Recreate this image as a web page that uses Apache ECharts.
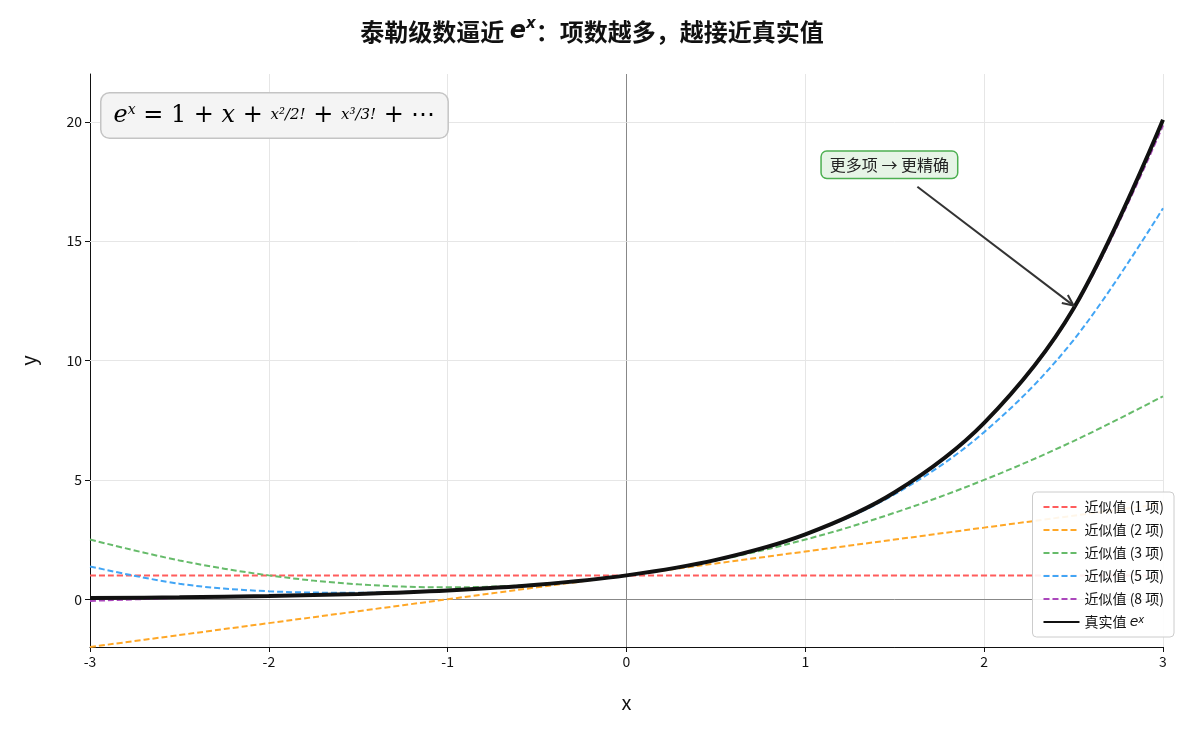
<!DOCTYPE html>
<html><head><meta charset="utf-8">
<script src="https://cdn.jsdelivr.net/npm/echarts@6/dist/echarts.min.js"></script>
<style>html,body{margin:0;background:#fff}#c{width:1184px;height:735px}</style>
</head><body><div id="c"></div>
<script>
const xs = [-3,-2.5,-2,-1.5,-1,-0.5,0,0.5,1,1.5,2,2.5,3];
const t1 = [1,1,1,1,1,1,1,1,1,1,1,1,1];
const t2 = [-2,-1.5,-1,-0.5,0,0.5,1,1.5,2,2.5,3,3.5,4];
const t3 = [2.5,1.625,1,0.625,0.5,0.625,1,1.625,2.5,3.625,5,6.625,8.5];
const t5 = [1.375,0.649,0.333,0.273,0.375,0.607,1,1.648,2.708,4.398,7,10.857,16.375];
const t8 = [-0.071,0.053,0.130,0.222,0.368,0.6065,1,1.6487,2.718,4.481,7.381,12.131,19.846];
const ex = [0.0498,0.0821,0.1353,0.2231,0.3679,0.6065,1,1.6487,2.7183,4.4817,7.389,12.1825,20.0855];
const yTicks = [0,5,10,15,20];
const names = ['近似值 (1 项)','近似值 (2 项)','近似值 (3 项)','近似值 (5 项)','近似值 (8 项)'];
const colors = ['#ff5c5c','#ffa726','#66bb6a','#42a5f5','#ab47bc'];
const F = '"Noto Sans CJK SC","Noto Sans",sans-serif';
const chart = echarts.init(document.getElementById('c'));
const pts = a => xs.map((x,i)=>[x,a[i]]);
const dashed = [t1,t2,t3,t5,t8].map((a,i)=>({
  name:names[i], type:'line', data:pts(a), smooth:0.35, symbol:'none', z:2,
  lineStyle:{color:colors[i], width:2, type:[6,3]}, itemStyle:{color:colors[i]}
}));
dashed[0].markLine = {silent:true, symbol:'none', label:{show:false}, z:1,
  lineStyle:{color:'#888', width:1, type:'solid'},
  data:[{yAxis:0},{xAxis:0}].concat(yTicks.filter(v=>v!==0).map(v=>({yAxis:v, lineStyle:{color:'#e6e6e6'}})))};
const series = dashed.concat([{
  name:'真实值 eˣ', type:'line', data:pts(ex), smooth:0.35, symbol:'none', z:3,
  lineStyle:{color:'#111', width:4}, itemStyle:{color:'#111'}
}]);
chart.setOption({
  animation:false,
  textStyle:{fontFamily:F},
  title:{left:'center', top:12, text:'泰勒级数逼近 {i|e}{s|x}：项数越多，越接近真实值',
    textStyle:{fontFamily:F, fontSize:24, fontWeight:'bold', color:'#111',
      rich:{i:{fontStyle:'italic',fontSize:24,fontFamily:'DejaVu Sans'}, s:{fontStyle:'italic',fontSize:15,verticalAlign:'top',padding:[0,0,14,0],fontFamily:'DejaVu Sans'}}}},
  grid:{left:90, right:21, top:74, bottom:88},
  xAxis:{type:'value', min:-3, max:3, interval:1, name:'x', nameLocation:'middle', nameGap:45,
    nameTextStyle:{fontSize:20,color:'#111'},
    axisLine:{onZero:false, lineStyle:{color:'#111'}}, axisTick:{lineStyle:{color:'#111'}},
    axisLabel:{color:'#111', fontSize:14}, splitLine:{lineStyle:{color:'#e6e6e6'}}},
  yAxis:{type:'value', min:-2, max:22, name:'y', nameLocation:'middle', nameGap:52,
    nameTextStyle:{fontSize:20,color:'#111'},
    axisLine:{show:true, onZero:false, lineStyle:{color:'#111'}},
    axisTick:{show:true, customValues:yTicks, lineStyle:{color:'#111'}},
    axisLabel:{color:'#111', fontSize:14, customValues:yTicks},
    splitLine:{show:false}},
  legend:{orient:'vertical', right:10, bottom:98, backgroundColor:'rgba(255,255,255,0.9)',
    borderColor:'#ccc', borderWidth:1, borderRadius:4, padding:[8,10], itemGap:9,
    itemWidth:36, itemHeight:12, itemStyle:{opacity:0},
    textStyle:{fontSize:14,color:'#111', rich:{i:{fontStyle:'italic',fontSize:14,fontFamily:'DejaVu Sans'}, s:{fontStyle:'italic',fontSize:10,verticalAlign:'top',fontFamily:'DejaVu Sans'}}},
    formatter:n=>n==='真实值 eˣ'?'真实值 {i|e}{s|x}':n,
    data:names.concat(['真实值 eˣ'])},
  series
});
// annotation
const tip = chart.convertToPixel({gridIndex:0},[2.5,12.3]);
const lab = chart.convertToPixel({gridIndex:0},[1.47,18.2]);
const sx = lab[0]+28, sy = lab[1]+22;
chart.setOption({graphic:[
  {type:'text', left:100, top:92, z:10, style:{
    text:'{i|e}{s|x}{n| = 1 + }{i|x}{n| + }{f|x²/2!}{n| + }{f|x³/3!}{n| + ⋯}',
    backgroundColor:'#f4f4f4', borderColor:'#c4c4c4', borderWidth:1.5, borderRadius:8, padding:[10,12],
    rich:{i:{fontStyle:'italic',fontSize:24,fontFamily:'DejaVu Serif',color:'#111'},
      s:{fontStyle:'italic',fontSize:14,fontFamily:'DejaVu Serif',verticalAlign:'top',color:'#111'},
      n:{fontSize:24,fontFamily:'DejaVu Serif',color:'#111'},
      f:{fontStyle:'italic',fontSize:15,fontFamily:'DejaVu Serif',color:'#111'}}}},
  {type:'line', z:10, shape:{x1:sx,y1:sy,x2:tip[0],y2:tip[1]}, style:{stroke:'#333',lineWidth:2}},
  {type:'polyline', z:10, x:tip[0], y:tip[1],
    rotation:-Math.atan2(tip[1]-sy, tip[0]-sx),
    shape:{points:[[-11,-5],[0,0],[-11,5]]}, style:{fill:'none',stroke:'#333',lineWidth:2}},
  {type:'text', z:11, x:lab[0], y:lab[1], style:{text:'更多项 → 更精确', fontSize:16, fontFamily:F,
    fill:'#222', align:'center', verticalAlign:'middle', backgroundColor:'#e6f4e6',
    borderColor:'#4caf50', borderWidth:1.5, borderRadius:5, padding:[5,8]}}
]});
</script></body></html>
